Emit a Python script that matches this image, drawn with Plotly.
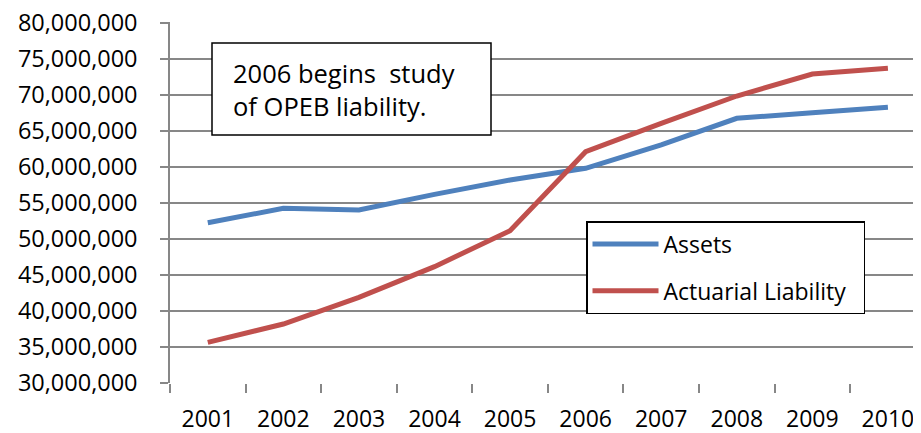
import plotly.graph_objects as go

years = ["2001", "2002", "2003", "2004", "2005", "2006", "2007", "2008", "2009", "2010"]
assets = [52.26e6, 54.26e6, 54.03e6, 56.2e6, 58.19e6, 59.82e6, 63.06e6, 66.76e6, 67.55e6, 68.29e6]
liability = [35.65e6, 38.19e6, 41.9e6, 46.16e6, 51.16e6, 62.13e6, 66.07e6, 69.86e6, 72.92e6, 73.7e6]
y_ticks = list(range(30_000_000, 80_000_001, 5_000_000))

FONT = "Open Sans"
GRID = "#878787"

fig = go.Figure()
fig.add_trace(go.Scatter(x=years, y=assets, mode="lines", name="Assets",
                         line=dict(color="#4F81BD", width=5), legendgroup="a"))
fig.add_trace(go.Scatter(x=years, y=liability, mode="lines", name="Actuarial Liability\u00a0\u00a0",
                         line=dict(color="#C0504D", width=5), legendgroup="b"))

# page body has an 8px margin; figure coords = screen coords - 8
OFF = 8
W, H = 921 - OFF, 433 - OFF
L, T = 170 - OFF, 22 - OFF
B = H - (383 - OFF)
plot_w = W - L
plot_h = H - T - B
cat_w = 75.57
y_top = 30e6 + plot_h * 5e6 / 36.0


def px(sx):
    return (sx - OFF - L) / plot_w


def py(sy):
    return (H - B - (sy - OFF)) / plot_h


fig.update_layout(
    width=W, height=H,
    margin=dict(l=L, r=0, t=T, b=B, autoexpand=False),
    paper_bgcolor="white", plot_bgcolor="white",
    font=dict(family=FONT, size=21, color="black"),
    xaxis=dict(type="category", range=[-0.5, -0.5 + plot_w / cat_w], automargin=False,
               showgrid=False, showline=False, zeroline=False,
               ticks="outside", tickson="boundaries", ticklen=9, tickwidth=1.5,
               tickcolor=GRID, ticklabelstandoff=20, ticklabeloverflow="allow",
               tickfont=dict(family=FONT, size=23)),
    yaxis=dict(range=[30e6, y_top], tickvals=y_ticks, automargin=False,
               tickformat=",d", showgrid=True, gridcolor=GRID, gridwidth=1.5,
               showline=True, linecolor=GRID, linewidth=1.5, zeroline=False,
               ticks="outside", ticklen=8, tickwidth=1.5, tickcolor=GRID,
               ticklabelstandoff=18, ticklabeloverflow="allow",
               tickfont=dict(family=FONT, size=23.5)),
    legend=dict(x=px(586), y=py(221), xanchor="left", yanchor="top",
                bgcolor="white", bordercolor="black", borderwidth=1.5,
                font=dict(family=FONT, size=23), tracegroupgap=14,
                itemwidth=66),
    showlegend=True,
)

fig.add_shape(type="rect", xref="paper", yref="paper",
              x0=px(212), x1=px(491), y0=py(135), y1=py(43),
              line=dict(color="black", width=1.5), fillcolor="white", layer="above")
fig.add_annotation(
    xref="paper", yref="paper", x=px(231), y=py(89),
    xanchor="left", yanchor="middle",
    text="2006 begins  study<br>of OPEB liability.",
    align="left", showarrow=False,
    font=dict(family=FONT, size=25.5, color="black"),
)

fig.write_html("out.html")
